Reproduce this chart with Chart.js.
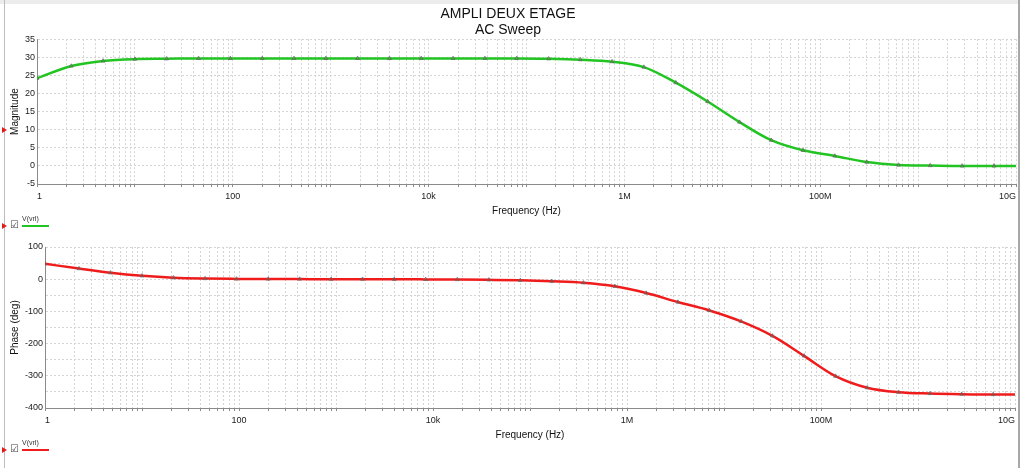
<!DOCTYPE html>
<html lang="fr">
<head>
  <meta charset="UTF-8">
  <title>AMPLI DEUX ETAGE - AC Sweep</title>
  <script src="https://cdn.jsdelivr.net/npm/chart.js"></script>
  <style>
    body {
      margin: 0;
      background: #fff;
      font-family: "Liberation Sans", Arial, sans-serif;
    }
    #page { position: absolute; left: 0; top: 0; width: 1033px; height: 468px; overflow: hidden; }
    #topbar { position: absolute; left: 0; top: 0; width: 1019px; height: 4px; background: #ececec; }
    #leftEdge { position: absolute; left: 4px; top: 0; width: 1px; height: 468px; background: #bdbdbd; }
    #rightEdge { position: absolute; left: 1018px; top: 0; width: 2px; height: 468px; background: #a8a8a8; }
    canvas { position: absolute; left: 0; }
    #magChart { top: 0; }
    #phaseChart { top: 234px; }
    .legend { position: absolute; left: 0; height: 14px; width: 60px; }
    .legend .cursor { position: absolute; left: 2px; top: 4px; width: 0; height: 0;
      border-top: 3px solid transparent; border-bottom: 3px solid transparent; border-left: 5px solid #e21b1b; }
    .legend .box { position: absolute; left: 10px; top: 0; font: 10px "DejaVu Sans", sans-serif; color: #444; }
    .legend .name { position: absolute; left: 22px; top: -4px; font: 7px "Liberation Sans", Arial, sans-serif; color: #333; }
    .legend .swatch { position: absolute; left: 22px; top: 6px; width: 27px; height: 2px; }
    #cursorMag { position: absolute; left: 2px; top: 127px; width: 0; height: 0;
      border-top: 3px solid transparent; border-bottom: 3px solid transparent; border-left: 5px solid #e21b1b; }
  </style>
</head>

<body>
  <div id="page">
    <div id="topbar"></div>
    <div id="leftEdge"></div>
    <div id="rightEdge"></div>
    <canvas id="magChart" width="1033" height="234"></canvas>
    <canvas id="phaseChart" width="1033" height="234"></canvas>
    <div id="cursorMag"></div>
    <div class="legend" style="top:219px">
      <div class="cursor"></div><div class="box">☑</div><div class="name">V(vrl)</div>
      <div class="swatch" style="background:#22c422"></div>
    </div>
    <div class="legend" style="top:443px">
      <div class="cursor"></div><div class="box">☑</div><div class="name">V(vrl)</div>
      <div class="swatch" style="background:#f01c1c"></div>
    </div>
  </div>

  <script>
    // sweep frequencies (Hz), one per simulator marker
    const freqHz = [1, 2.24, 4.73, 10, 21.1, 44.7, 94.4, 200, 422, 891, 1880, 3980, 8410,
      17800, 37600, 79400, 168000, 355000, 750000, 1.58e6, 3.35e6, 7.08e6, 1.5e7, 3.16e7,
      6.68e7, 1.41e8, 2.99e8, 6.31e8, 1.33e9, 2.82e9, 5.96e9, 1e10];

    // V(vrl) magnitude
    const magnitude = [24.2, 27.6, 29.0, 29.5, 29.6, 29.7, 29.7, 29.7, 29.7, 29.7, 29.7, 29.7, 29.7,
      29.7, 29.7, 29.7, 29.6, 29.35, 28.8, 27.3, 23.0, 17.8, 12.1, 7.1,
      4.3, 2.75, 1.05, 0.25, 0.1, 0.0, 0.0, 0.0];

    // V(vrl) phase (deg)
    const phaseDeg = [48, 33, 20, 10.5, 4.5, 2, 1, 0.5, 0.3, 0, 0, -0.3, -0.6,
      -1, -2, -3.5, -6.5, -11, -22, -43, -71, -97, -131, -176,
      -238, -301, -337, -351, -355, -357, -358, -358];

    const decadeLabels = ['1', '100', '10k', '1M', '100M', '10G'];

    const gridColor = '#d4d4d4';
    const axisColor = '#8a8a8a';

    function logTicks(scale) {
      const ticks = [];
      for (let e = 0; e < 10; e++) {
        for (let m = 1; m < 10; m++) ticks.push({ value: m * Math.pow(10, e) });
      }
      ticks.push({ value: 1e10 });
      scale.ticks = ticks;
    }

    function decadeLabel(v) {
      const e = Math.round(Math.log10(v));
      if (Math.abs(v - Math.pow(10, e)) > v * 1e-6 || e % 2) return '';
      return decadeLabels[e / 2];
    }

    function freqAxis(height) {
      return {
        type: 'logarithmic',
        min: 1,
        max: 1e10,
        afterBuildTicks: logTicks,
        afterFit: function (s) { s.height = height; s.paddingLeft = 0; s.paddingRight = 0; },
        ticks: {
          callback: decadeLabel,
          autoSkip: false,
          maxRotation: 0,
          align: 'inner',
          padding: 4,
          color: '#222',
          font: { family: 'Liberation Sans', size: 9 }
        },
        grid: { color: gridColor, tickLength: 3, tickColor: axisColor },
        border: { color: axisColor, width: 1, dash: [2, 2] },
        title: {
          display: true,
          text: 'Frequency (Hz)',
          color: '#111',
          font: { family: 'Liberation Sans', size: 10 },
          padding: { top: 0, bottom: 3 }
        }
      };
    }

    function valueAxis(title, min, max, step, width, labelFn) {
      return {
        min: min,
        max: max,
        afterFit: function (s) { s.width = width; s.paddingTop = 0; s.paddingBottom = 0; },
        ticks: {
          stepSize: step,
          callback: labelFn,
          padding: 2,
          color: '#222',
          font: { family: 'Liberation Sans', size: 9 }
        },
        grid: { color: gridColor, drawTicks: false },
        border: { color: axisColor, width: 1, dash: [2, 2] },
        title: {
          display: true,
          text: title,
          color: '#111',
          font: { family: 'Liberation Sans', size: 10 },
          padding: { top: 9, bottom: 0 }
        }
      };
    }

    function series(values, color) {
      return {
        label: 'V(vrl)',
        data: freqHz.map((f, i) => ({ x: f, y: values[i] })),
        borderColor: color,
        borderWidth: 2.5,
        cubicInterpolationMode: 'monotone',
        pointStyle: 'triangle',
        pointRadius: freqHz.map((f, i) => i === freqHz.length - 1 ? 0 : 2.2),
        pointBorderColor: '#666',
        pointBackgroundColor: 'rgba(0,0,0,0)',
        pointBorderWidth: 0.8,
        fill: false
      };
    }

    new Chart(document.getElementById('magChart'), {
      type: 'line',
      data: { datasets: [series(magnitude, '#22c422')] },
      options: {
        responsive: false,
        animation: false,
        layout: { padding: { left: 0, right: 17, top: 0, bottom: 14 } },
        plugins: {
          legend: { display: false },
          tooltip: { enabled: false },
          title: {
            display: true,
            text: ['AMPLI DEUX ETAGE', 'AC Sweep'],
            color: '#111',
            font: { family: 'Liberation Sans', size: 14, weight: 'normal', lineHeight: 1.15 },
            padding: { top: 6, bottom: 1 }
          }
        },
        scales: {
          x: freqAxis(36),
          y: valueAxis('Magnitude', -5, 35, 5, 37, v => v)
        }
      }
    });

    new Chart(document.getElementById('phaseChart'), {
      type: 'line',
      data: { datasets: [series(phaseDeg, '#f01c1c')] },
      options: {
        responsive: false,
        animation: false,
        layout: { padding: { left: 0, right: 18, top: 13, bottom: 24 } },
        plugins: {
          legend: { display: false },
          tooltip: { enabled: false }
        },
        scales: {
          x: freqAxis(36),
          y: valueAxis('Phase (deg)', -400, 100, 50, 45, v => (v % 100 === 0 ? v : ''))
        }
      }
    });
  </script>
</body>

</html>
